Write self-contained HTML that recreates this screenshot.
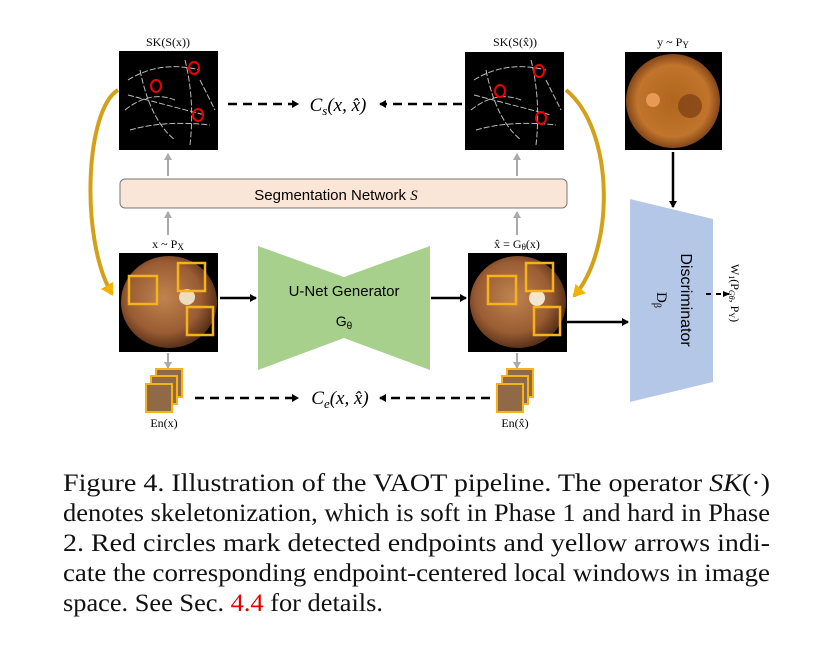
<!DOCTYPE html>
<html><head><meta charset="utf-8"><style>
html,body{margin:0;padding:0;background:#fff;}
svg{display:block}
</style></head><body>
<svg width="827" height="654" viewBox="0 0 827 654" xmlns="http://www.w3.org/2000/svg" font-family="Liberation Serif, serif">
<defs>
<radialGradient id="fund" cx="45%" cy="45%" r="55%">
<stop offset="0" stop-color="#c0844f"/><stop offset="0.7" stop-color="#9a5c33"/><stop offset="1" stop-color="#5a3218"/>
</radialGradient>
<radialGradient id="fundY" cx="50%" cy="50%" r="55%">
<stop offset="0" stop-color="#b0661e"/><stop offset="0.7" stop-color="#c0742c"/><stop offset="1" stop-color="#6a3210"/>
</radialGradient>
<marker id="ah" markerWidth="8" markerHeight="8" refX="6" refY="4" orient="auto" markerUnits="userSpaceOnUse"><path d="M0,0 L7,4 L0,8 z" fill="#000"/></marker>
<marker id="ahs" markerWidth="8" markerHeight="8" refX="6" refY="3.5" orient="auto" markerUnits="userSpaceOnUse"><path d="M0,0.5 L7,3.5 L0,6.5 z" fill="#000"/></marker>
<marker id="ag" markerWidth="8" markerHeight="8" refX="6" refY="4" orient="auto" markerUnits="userSpaceOnUse"><path d="M0,0 L7,4 L0,8 z" fill="#aaa"/></marker>
<marker id="ay" markerWidth="16" markerHeight="16" refX="10" refY="8" orient="auto" markerUnits="userSpaceOnUse"><path d="M0,1 L12,8 L0,15 z" fill="#f0b400"/></marker>
</defs>

<!-- SK images -->
<text x="168" y="46" font-size="12" text-anchor="middle">SK(S(x))</text>
<rect x="119" y="51" width="99" height="99" fill="#000"/>
<g stroke="#bbb" stroke-width="1" fill="none" stroke-dasharray="6 2">
<path d="M128,80 Q160,60 200,70 M125,110 Q150,90 175,100 M130,130 Q165,120 210,125 M185,60 Q195,100 190,145 M140,70 Q150,120 175,140 M200,80 L215,110 M128,95 L205,115"/>
</g>
<g stroke="#e00" stroke-width="2" fill="none"><ellipse cx="194" cy="68" rx="5" ry="6"/><ellipse cx="156" cy="86" rx="5" ry="6"/><ellipse cx="198" cy="115" rx="5" ry="6"/></g>

<text x="515" y="46" font-size="12" text-anchor="middle">SK(S(x̂))</text>
<rect x="465" y="52" width="99" height="98" fill="#000"/>
<g stroke="#bbb" stroke-width="1" fill="none" stroke-dasharray="6 2">
<path d="M474,80 Q506,60 546,70 M471,110 Q496,90 521,100 M476,130 Q511,120 556,125 M531,60 Q541,100 536,145 M486,70 Q496,120 521,140 M546,80 L561,110 M474,95 L551,115"/>
</g>
<g stroke="#e00" stroke-width="2" fill="none"><ellipse cx="539" cy="71" rx="5" ry="6"/><ellipse cx="500" cy="91" rx="5" ry="6"/><ellipse cx="541" cy="118" rx="5" ry="6"/></g>

<line x1="228" y1="104" x2="298" y2="104" stroke="#000" stroke-width="2.5" stroke-dasharray="9 6" marker-end="url(#ah)"/>
<line x1="462" y1="104" x2="380" y2="104" stroke="#000" stroke-width="2.5" stroke-dasharray="9 6" marker-end="url(#ah)"/>
<text x="338" y="111" font-size="19" font-style="italic" text-anchor="middle">C<tspan font-size="13" dy="4">s</tspan><tspan dy="-4">(x, x̂)</tspan></text>

<!-- y image -->
<text x="673" y="46" font-size="12" text-anchor="middle">y ~ P<tspan font-size="9" dy="2">Y</tspan></text>
<rect x="625" y="52" width="97" height="98" fill="#000"/>
<circle cx="673" cy="101" r="47" fill="url(#fundY)"/>
<circle cx="653" cy="100" r="7" fill="#e89a55"/>
<circle cx="690" cy="106" r="12" fill="#7a3d12" opacity="0.7"/>
<line x1="673" y1="152" x2="673" y2="207" stroke="#000" stroke-width="2.5" marker-end="url(#ah)"/>

<!-- seg network -->
<line x1="168" y1="176" x2="168" y2="154" stroke="#aaa" stroke-width="2" marker-end="url(#ag)"/>
<line x1="517" y1="176" x2="517" y2="154" stroke="#aaa" stroke-width="2" marker-end="url(#ag)"/>
<rect x="120" y="179" width="447" height="29" rx="5" fill="#fbe5d6" stroke="#777" stroke-width="1"/>
<text x="336" y="200" font-size="15" text-anchor="middle" font-family="Liberation Sans, sans-serif">Segmentation Network <tspan font-family="Liberation Serif, serif" font-style="italic">S</tspan></text>
<line x1="168" y1="235" x2="168" y2="212" stroke="#aaa" stroke-width="2" marker-end="url(#ag)"/>
<line x1="517" y1="235" x2="517" y2="212" stroke="#aaa" stroke-width="2" marker-end="url(#ag)"/>

<!-- bottom images -->
<text x="168" y="248" font-size="12" text-anchor="middle">x ~ P<tspan font-size="9" dy="2">X</tspan></text>
<rect x="119" y="253" width="99" height="99" fill="#000"/>
<ellipse cx="169" cy="302" rx="48" ry="46" fill="url(#fund)"/>
<circle cx="187" cy="297" r="8" fill="#eedcc0"/>
<g stroke="#f5b21a" stroke-width="2.5" fill="none"><rect x="129" y="276" width="28" height="28"/><rect x="178" y="263" width="27" height="28"/><rect x="187" y="307" width="26" height="28"/></g>

<text x="517" y="248" font-size="12" text-anchor="middle">x̂ = G<tspan font-size="9" dy="2">θ</tspan><tspan dy="-2">(x)</tspan></text>
<rect x="468" y="253" width="99" height="99" fill="#000"/>
<ellipse cx="518" cy="302" rx="48" ry="46" fill="url(#fund)"/>
<circle cx="537" cy="298" r="8" fill="#f3e6d0"/>
<g stroke="#f5b21a" stroke-width="2.5" fill="none"><rect x="488" y="276" width="28" height="28"/><rect x="526" y="263" width="27" height="28"/><rect x="534" y="307" width="26" height="28"/></g>

<!-- unet -->
<polygon points="258,246 344,277 430,246 430,370 344,338 258,370" fill="#a8d08d"/>
<text x="344" y="296" font-size="15" text-anchor="middle" font-family="Liberation Sans, sans-serif">U-Net Generator</text>
<text x="344" y="326" font-size="14" text-anchor="middle" font-family="Liberation Sans, sans-serif">G<tspan font-size="10" dy="3">θ</tspan></text>
<line x1="220" y1="298" x2="256" y2="298" stroke="#000" stroke-width="2.5" marker-end="url(#ah)"/>
<line x1="431" y1="298" x2="466" y2="298" stroke="#000" stroke-width="2.5" marker-end="url(#ah)"/>
<line x1="567" y1="322" x2="628" y2="322" stroke="#000" stroke-width="2.5" marker-end="url(#ah)"/>

<!-- discriminator -->
<polygon points="630,199 713,219 713,382 630,402" fill="#b4c7e7"/>
<text transform="translate(681,300) rotate(90)" font-size="16" text-anchor="middle" font-family="Liberation Sans, sans-serif">Discriminator</text>
<text transform="translate(657,300) rotate(90)" font-size="15" text-anchor="middle">D<tspan font-size="10" dy="3">β</tspan></text>
<line x1="706" y1="294" x2="729" y2="294" stroke="#000" stroke-width="2" stroke-dasharray="5 5" marker-end="url(#ahs)"/>
<text transform="translate(731,293) rotate(90)" font-size="12" text-anchor="middle">W<tspan font-size="8" dy="2">1</tspan><tspan dy="-2">(P</tspan><tspan font-size="8" dy="2" font-style="italic">Gθ</tspan><tspan dy="-2">, P</tspan><tspan font-size="8" dy="2">Y</tspan><tspan dy="-2">)</tspan></text>

<!-- yellow curves -->
<path d="M118,90 C85,110 80,240 112,294" stroke="#d4a017" stroke-width="4" fill="none" marker-end="url(#ay)"/>
<path d="M566,90 C615,130 615,250 574,296" stroke="#d4a017" stroke-width="4" fill="none" marker-end="url(#ay)"/>

<!-- En stacks -->
<line x1="168" y1="353" x2="168" y2="368" stroke="#aaa" stroke-width="2" marker-end="url(#ag)"/>
<line x1="517" y1="353" x2="517" y2="368" stroke="#aaa" stroke-width="2" marker-end="url(#ag)"/>
<g stroke="#f5b21a" stroke-width="2" fill="#8f6a45">
<rect x="156" y="369" width="26" height="28"/><rect x="151" y="376" width="26" height="28"/><rect x="146" y="384" width="26" height="28"/>
<rect x="507" y="369" width="26" height="28"/><rect x="502" y="376" width="26" height="28"/><rect x="497" y="384" width="26" height="28"/>
</g>
<text x="164" y="427" font-size="12" text-anchor="middle">En(x)</text>
<text x="515" y="427" font-size="12" text-anchor="middle">En(x̂)</text>
<line x1="195" y1="398" x2="298" y2="398" stroke="#000" stroke-width="2.5" stroke-dasharray="9 6" marker-end="url(#ah)"/>
<line x1="490" y1="398" x2="380" y2="398" stroke="#000" stroke-width="2.5" stroke-dasharray="9 6" marker-end="url(#ah)"/>
<text x="340" y="404" font-size="19" font-style="italic" text-anchor="middle">C<tspan font-size="13" dy="4">e</tspan><tspan dy="-4">(x, x̂)</tspan></text>

<!-- caption -->
<g font-size="25" fill="#111">
<text x="63" y="491" textLength="707" lengthAdjust="spacingAndGlyphs">Figure 4.  Illustration of the VAOT pipeline.  The operator <tspan font-style="italic">SK</tspan>(·)</text>
<text x="63" y="521" textLength="707" lengthAdjust="spacingAndGlyphs">denotes skeletonization, which is soft in Phase 1 and hard in Phase</text>
<text x="63" y="551" textLength="707" lengthAdjust="spacingAndGlyphs">2.  Red circles mark detected endpoints and yellow arrows indi-</text>
<text x="63" y="581" textLength="707" lengthAdjust="spacingAndGlyphs">cate the corresponding endpoint-centered local windows in image</text>
<text x="63" y="611" textLength="320" lengthAdjust="spacingAndGlyphs">space.  See Sec. <tspan fill="#e00000">4.4</tspan> for details.</text>
</g>
</svg>
</body></html>
